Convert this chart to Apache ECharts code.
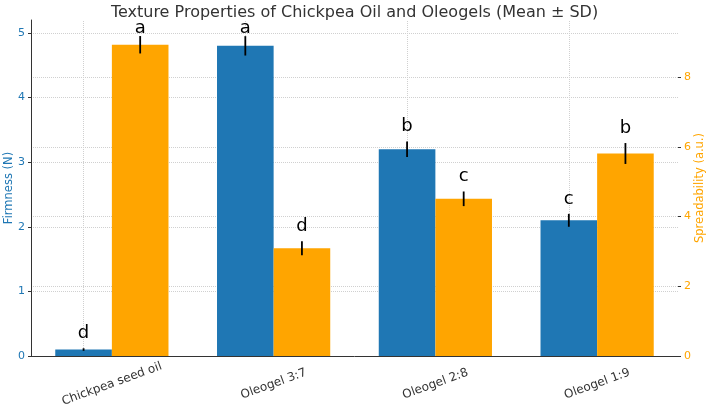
<!DOCTYPE html>
<html>
<head>
<meta charset="utf-8">
<script src="https://cdn.jsdelivr.net/npm/echarts@6/dist/echarts.min.js"></script>
<style>
html,body{margin:0;padding:0;background:#fff;}
#chart{width:709px;height:415px;}
</style>
</head>
<body>
<div id="chart"></div>
<script>
const categories = ['Chickpea seed oil', 'Oleogel 3:7', 'Oleogel 2:8', 'Oleogel 1:9'];
const firmness = [0.1, 4.8, 3.2, 2.1];
const firmnessSD = [0.02, 0.15, 0.12, 0.1];
const firmnessLetters = ['d', 'a', 'b', 'c'];
const spreadability = [8.93, 3.09, 4.51, 5.81];
const spreadabilitySD = [0.25, 0.2, 0.21, 0.3];
const spreadabilityLetters = ['a', 'd', 'c', 'b'];
const firmnessTicks = [0, 1, 2, 3, 4, 5];
const spreadabilityTicks = [0, 2, 4, 6, 8];
const firmnessMax = 5.2;
const spreadabilityMax = 9.64;

const BLUE = '#1f77b4';
const ORANGE = '#ffa500';
const FONT = 'DejaVu Sans';

function errorSeries(values, sds, letters, axisIndex, side) {
  return {
    type: 'custom',
    yAxisIndex: axisIndex,
    z: 5,
    clip: false,
    silent: true,
    encode: { x: 0, y: 1 },
    data: values.map((v, i) => [i, v, sds[i]]),
    renderItem: function (params, api) {
      const idx = api.value(0);
      const v = api.value(1);
      const sd = api.value(2);
      const band = api.size([1, 0])[0];
      const dx = side * band * 0.175;
      const top = api.coord([idx, v + sd]);
      const bot = api.coord([idx, v - sd]);
      const x = top[0] + dx;
      const gridTop = params.coordSys.y;
      const ty = Math.max(top[1] - 6, gridTop + 17);
      return {
        type: 'group',
        children: [
          {
            type: 'line',
            shape: { x1: x, y1: top[1], x2: x, y2: bot[1] },
            style: { stroke: '#000', lineWidth: 1.8 }
          },
          {
            type: 'text',
            style: {
              text: letters[params.dataIndex],
              x: x,
              y: ty,
              textAlign: 'center',
              textVerticalAlign: 'bottom',
              fontSize: 18,
              fontFamily: FONT,
              fill: '#000'
            }
          }
        ]
      };
    }
  };
}

const chart = echarts.init(document.getElementById('chart'), null, { renderer: 'canvas' });
chart.setOption({
  animation: false,
  backgroundColor: '#fff',
  textStyle: { fontFamily: FONT },
  title: {
    text: 'Texture Properties of Chickpea Oil and Oleogels (Mean ± SD)',
    left: 'center',
    top: 0,
    textStyle: { fontFamily: FONT, fontSize: 16, fontWeight: 'normal', color: '#333' }
  },
  grid: { left: 31, right: 31, top: 20, bottom: 59, containLabel: false, outerBoundsMode: 'none' },
  xAxis: {
    type: 'category',
    data: categories,
    axisLine: { show: true, lineStyle: { color: '#333', width: 1 } },
    axisTick: { show: false },
    splitLine: { show: false },
    axisLabel: { rotate: 20, align: 'center', verticalAlign: 'middle', color: '#333', fontSize: 12, fontFamily: FONT, margin: 28 }
  },
  yAxis: [
    {
      type: 'value',
      min: 0,
      max: firmnessMax,
      name: 'Firmness (N)',
      nameLocation: 'middle',
      nameRotate: 90,
      nameGap: 16,
      nameMoveOverlap: false,
      nameTextStyle: { color: BLUE, fontSize: 11.5, fontFamily: FONT },
      axisLine: { show: true, onZero: false, lineStyle: { color: '#333', width: 1 } },
      axisTick: { show: true, length: 3, inside: false, customValues: firmnessTicks, lineStyle: { color: '#333' } },
      axisLabel: { color: BLUE, fontSize: 11, fontFamily: FONT, margin: 6, customValues: firmnessTicks },
      splitLine: { show: true, lineStyle: { type: 'dotted', color: '#d0d0d0', width: 1 } }
    },
    {
      type: 'value',
      min: 0,
      max: spreadabilityMax,
      name: 'Spreadability (a.u.)',
      nameLocation: 'middle',
      nameRotate: 90,
      nameGap: 16,
      nameMoveOverlap: false,
      nameTextStyle: { color: ORANGE, fontSize: 11.5, fontFamily: FONT },
      axisLine: { show: false },
      axisTick: { show: true, length: 3, inside: false, customValues: spreadabilityTicks, lineStyle: { color: '#333' } },
      axisLabel: { color: ORANGE, fontSize: 11, fontFamily: FONT, margin: 6, customValues: spreadabilityTicks },
      splitLine: { show: true, lineStyle: { type: 'dotted', color: '#d0d0d0', width: 1 } }
    }
  ],
  series: [
    {
      name: 'Firmness',
      type: 'bar',
      yAxisIndex: 0,
      data: firmness,
      barWidth: '35%',
      barGap: '0%',
      itemStyle: { color: BLUE },
      z: 2,
      markLine: {
        silent: true,
        z: 1,
        symbol: 'none',
        label: { show: false },
        lineStyle: { type: 'dotted', color: '#d0d0d0', width: 1 },
        data: categories.map(c => ({ xAxis: c }))
      }
    },
    {
      name: 'Spreadability',
      type: 'bar',
      yAxisIndex: 1,
      data: spreadability,
      barWidth: '35%',
      barGap: '0%',
      itemStyle: { color: ORANGE },
      z: 2
    },
    errorSeries(firmness, firmnessSD, firmnessLetters, 0, -1),
    errorSeries(spreadability, spreadabilitySD, spreadabilityLetters, 1, 1)
  ]
});
</script>
</body>
</html>
